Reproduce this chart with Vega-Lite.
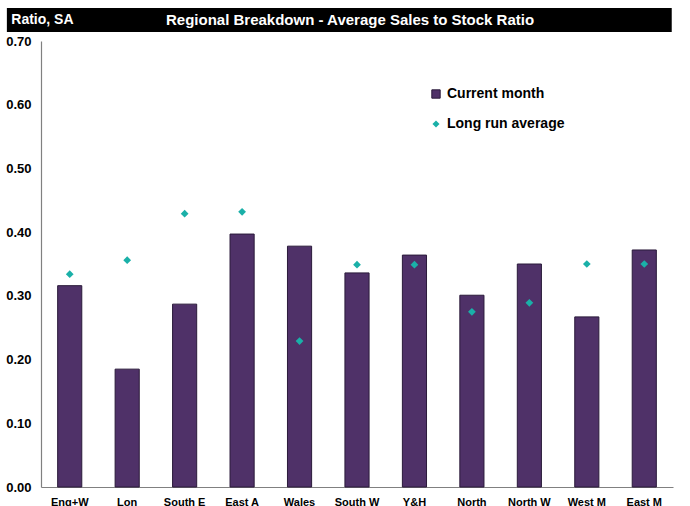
{
  "$schema": "https://vega.github.io/schema/vega-lite/v6.json",
  "padding": {"left": 5, "top": 8, "right": 5, "bottom": 0},
  "background": "white",
  "spacing": 3,
  "config": {
    "font": "Liberation Sans",
    "view": {"stroke": null}
  },
  "vconcat": [
    {
      "width": 632,
      "height": 24,
      "data": {"values": [
        {"kind": "bg", "x0": -0.054, "x1": 0.998},
        {"kind": "left", "label": "Ratio, SA", "pos": -0.047},
        {"kind": "center", "label": "Regional Breakdown - Average Sales to Stock Ratio", "pos": 0.489}
      ]},
      "layer": [
        {
          "transform": [{"filter": "datum.kind === 'bg'"}],
          "mark": {"type": "rect", "color": "black"},
          "encoding": {
            "x": {"field": "x0", "type": "quantitative", "scale": {"domain": [0, 1], "nice": false, "zero": false}, "axis": null},
            "x2": {"field": "x1"},
            "y": {"datum": 0, "type": "quantitative", "scale": {"domain": [0, 1]}, "axis": null},
            "y2": {"datum": 1}
          }
        },
        {
          "transform": [{"filter": "datum.kind === 'left'"}],
          "mark": {"type": "text", "align": "left", "baseline": "middle", "color": "white", "fontWeight": "bold", "fontSize": 14, "font": "Liberation Sans Narrow, Liberation Sans"},
          "encoding": {
            "x": {"field": "pos", "type": "quantitative"},
            "y": {"datum": 0.5, "type": "quantitative"},
            "text": {"field": "label"}
          }
        },
        {
          "transform": [{"filter": "datum.kind === 'center'"}],
          "mark": {"type": "text", "align": "center", "baseline": "middle", "color": "white", "fontWeight": "bold", "fontSize": 15, "font": "Liberation Sans Narrow, Liberation Sans"},
          "encoding": {
            "x": {"field": "pos", "type": "quantitative"},
            "y": {"datum": 0.5, "type": "quantitative"},
            "text": {"field": "label"}
          }
        }
      ]
    },
    {
      "width": 632,
      "height": 446,
      "data": {"values": [
        {"region": "Eng+W", "current": 0.316, "lra": 0.334},
        {"region": "Lon", "current": 0.185, "lra": 0.356},
        {"region": "South E", "current": 0.287, "lra": 0.429},
        {"region": "East A", "current": 0.397, "lra": 0.432},
        {"region": "Wales", "current": 0.378, "lra": 0.229},
        {"region": "South W", "current": 0.336, "lra": 0.349},
        {"region": "Y&H", "current": 0.364, "lra": 0.349},
        {"region": "North", "current": 0.301, "lra": 0.275},
        {"region": "North W", "current": 0.350, "lra": 0.289},
        {"region": "West M", "current": 0.267, "lra": 0.350},
        {"region": "East M", "current": 0.372, "lra": 0.350}
      ]},
      "encoding": {
        "x": {
          "field": "region", "type": "nominal", "sort": null,
          "scale": {"paddingInner": 0.58, "paddingOuter": 0.29},
          "axis": {"title": null, "labelAngle": 0, "ticks": false, "domainColor": "#808080", "domainWidth": 1.2, "labelFont": "Liberation Sans Narrow, Liberation Sans", "labelFontWeight": "bold", "labelFontSize": 11, "labelColor": "black", "labelPadding": 9}
        }
      },
      "layer": [
        {
          "mark": {"type": "bar", "stroke": "#2A1A3A", "strokeWidth": 1},
          "encoding": {
            "y": {
              "field": "current", "type": "quantitative",
              "scale": {"domain": [0, 0.7], "nice": false},
              "axis": {"title": null, "values": [0, 0.1, 0.2, 0.3, 0.4, 0.5, 0.6, 0.7], "format": ".2f", "grid": false, "ticks": false, "domainColor": "#808080", "domainWidth": 1.2, "labelFont": "Liberation Sans Narrow, Liberation Sans", "labelFontWeight": "bold", "labelFontSize": 13, "labelColor": "black", "labelPadding": 10}
            },
            "fill": {
              "datum": "Current month", "type": "nominal",
              "scale": {"domain": ["Current month"], "range": ["#4F3168"]},
              "legend": {
                "title": null, "orient": "none", "legendX": 388, "legendY": 79,
                "symbolType": "square", "symbolSize": 70, "symbolStrokeColor": "#2A1A3A", "symbolStrokeWidth": 1,
                "labelFont": "Liberation Sans Narrow, Liberation Sans", "labelFontWeight": "bold", "labelFontSize": 14, "labelColor": "black"
              }
            }
          }
        },
        {
          "mark": {"type": "point", "shape": "diamond", "filled": true, "size": 60, "opacity": 1},
          "encoding": {
            "y": {"field": "lra", "type": "quantitative"},
            "color": {
              "datum": "Long run average", "type": "nominal",
              "scale": {"domain": ["Long run average"], "range": ["#1AB0A8"]},
              "legend": {
                "title": null, "orient": "none", "legendX": 388, "legendY": 109,
                "symbolType": "diamond", "symbolSize": 50, "symbolOpacity": 1,
                "labelFont": "Liberation Sans Narrow, Liberation Sans", "labelFontWeight": "bold", "labelFontSize": 14, "labelColor": "black"
              }
            }
          }
        }
      ]
    }
  ]
}
